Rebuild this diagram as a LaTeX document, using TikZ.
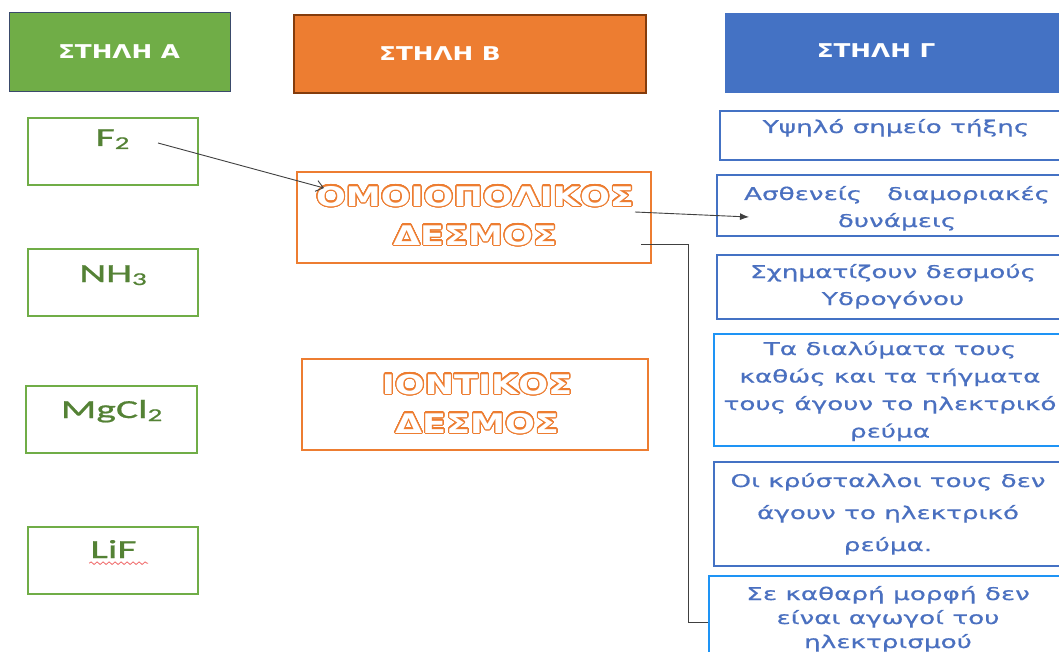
\documentclass[tikz,border=0pt]{standalone}
\usepackage{fontspec}
\setmainfont{Carlito}
\usepackage[copies]{contour}
\usetikzlibrary{arrows.meta,decorations.pathmorphing}
\newfontfamily\hdrfont{DejaVu Sans Bold}[FakeStretch=1.3]
\newfontfamily\colcfont{DejaVu Sans}[FakeStretch=1.5,FakeBold=0.6]
\newfontfamily\leftfont{Carlito}[FakeStretch=1.6,FakeBold=0.8]
\definecolor{hgreen}{HTML}{70AD47}
\definecolor{hgreenb}{HTML}{3A4A6B}
\definecolor{horange}{HTML}{ED7D31}
\definecolor{horangeb}{HTML}{843C0C}
\definecolor{hblue}{HTML}{4472C4}
\definecolor{tgreen}{HTML}{548235}
\definecolor{tblue}{HTML}{4A70C0}
\definecolor{bright}{HTML}{1E94F5}
\definecolor{conn}{HTML}{404040}
\definecolor{wavy}{HTML}{F06A6A}
\newcommand\lsub[1]{\raisebox{-3pt}{\fontsize{18}{18}\selectfont #1}}
\contourlength{1.15pt}
\contournumber{32}
\tikzset{
  box/.style={rectangle, inner sep=0pt, anchor=north west},
  hdrA/.style={box, fill=hgreen, draw=hgreenb, line width=1pt},
  hdrB/.style={box, fill=horange, draw=horangeb, line width=2pt},
  hdrC/.style={box, fill=hblue},
  hdrtext/.style={anchor=base, text=white, font=\hdrfont\fontsize{19}{23}\selectfont, inner sep=0pt},
  leftbox/.style={box, draw=hgreen, line width=1.8pt},
  lefttext/.style={anchor=base, text=tgreen, font=\leftfont\fontsize{26}{30}\selectfont, inner sep=0pt},
  midbox/.style={box, draw=horange, line width=1.8pt},
  midtext/.style={anchor=base, text=white, align=center, font=\hdrfont\fontsize{27}{39}\selectfont, inner sep=0pt},
  cbox/.style={box, draw=hblue, line width=1.6pt},
  cboxb/.style={box, draw=bright, line width=1.8pt},
  ctext/.style={anchor=base, text=tblue, align=center, inner sep=0pt},
  conn/.style={draw=conn, line width=0.9pt},
}
\begin{document}
\begin{tikzpicture}[x=1pt,y=-1pt]
\path[use as bounding box, clip] (0,0) rectangle (1059,652);
\fill[white] (0,0) rectangle (1059,652);
% headers
\node[hdrA, minimum width=221, minimum height=79] (ha) at (9,12) {};
\node[hdrtext] (hat) at (119,59) {ΣΤΗΛΗ Α};
\node[hdrB, minimum width=352, minimum height=78] (hb) at (293,14) {};
\node[hdrtext] (hbt) at (440,61) {ΣΤΗΛΗ Β};
\node[hdrC, minimum width=350, minimum height=80] (hc) at (725,13) {};
\node[hdrtext] (hct) at (876,58) {ΣΤΗΛΗ Γ};
% left column
\node[leftbox, minimum width=170, minimum height=67] (f2) at (27,117) {};
\node[lefttext] (f2t) at (112.5,146) {F\lsub{2}};
\node[leftbox, minimum width=170, minimum height=67] (nh3) at (27,248) {};
\node[lefttext] (nh3t) at (113,282) {NH\lsub{3}};
\node[leftbox, minimum width=171, minimum height=67] (mgcl) at (25,385) {};
\node[lefttext] (mgclt) at (111.5,418) {MgCl\lsub{2}};
\node[leftbox, minimum width=170, minimum height=67] (lif) at (27,526) {};
\node[lefttext] (lift) at (113.5,558) {LiF};
\draw[wavy, line width=0.8pt, decorate, decoration={snake, amplitude=1.3pt, segment length=6pt}] (lift.south west) ++(-1,5) -- ++(59,0);
% middle column
\node[midbox, minimum width=354, minimum height=91] (omo) at (296,171) {};
\node[midtext] (omot) at (475,245) {\contour{horange}{ΟΜΟΙΟΠΟΛΙΚΟΣ}\\\contour{horange}{ΔΕΣΜΟΣ}};
\node[midbox, minimum width=346, minimum height=91] (ion) at (301,358) {};
\node[midtext] (iont) at (477,433) {\contour{horange}{ΙΟΝΤΙΚΟΣ}\\\contour{horange}{ΔΕΣΜΟΣ}};
% right column
\node[cbox, minimum width=360, minimum height=49] (c1) at (719,110) {};
\node[ctext, font=\colcfont\fontsize{17.5}{27}\selectfont] (c1t) at (896,133) {Υψηλό σημείο τήξης};
\node[cbox, minimum width=360, minimum height=61] (c2) at (716,174) {};
\node[ctext, font=\colcfont\fontsize{17.5}{27}\selectfont] (c2t) at (897,227) {Ασθενείς \ \ διαμοριακές\\δυνάμεις};
\node[cbox, minimum width=360, minimum height=64] (c3) at (716,254) {};
\node[ctext, font=\colcfont\fontsize{17.5}{27}\selectfont] (c3t) at (893,305) {Σχηματίζουν δεσμούς\\Υδρογόνου};
\node[cboxb, minimum width=360, minimum height=112] (c4) at (713,333) {};
\node[ctext, font=\colcfont\fontsize{17.5}{27.5}\selectfont] (c4t) at (890,437.5) {Τα διαλύματα τους\\καθώς και τα τήγματα\\τους άγουν το ηλεκτρικό\\ρεύμα};
\node[cbox, minimum width=360, minimum height=104] (c5) at (713,461) {};
\node[ctext, font=\colcfont\fontsize{17.5}{32}\selectfont] (c5t) at (888,551) {Οι κρύσταλλοι τους δεν\\άγουν το ηλεκτρικό\\ρεύμα.};
\node[cboxb, minimum width=360, minimum height=100] (c6) at (708,575) {};
\node[ctext, font=\colcfont\fontsize{17.5}{24}\selectfont] (c6t) at (888,648) {Σε καθαρή μορφή δεν\\είναι αγωγοί του\\ηλεκτρισμού};
% connectors
\coordinate (a1s) at (158,143);
\coordinate (a1e) at (324,188);
\draw[conn, -{Straight Barb[length=7pt,width=11pt]}] (a1s) -- (a1e);
\coordinate (a2s) at (635,212);
\coordinate (a2e) at (749,217);
\draw[conn, -{Latex[length=9pt,width=7pt]}] (a2s) -- (a2e);
\coordinate (e1) at (641,244);
\coordinate (e2) at (688,622);
\draw[conn] (e1) -| (e2) -- (e2 -| c6.west);
\end{tikzpicture}
\end{document}
